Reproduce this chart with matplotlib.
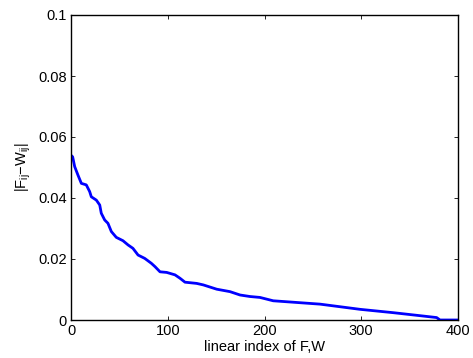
import matplotlib
matplotlib.use("Agg")
import matplotlib.pyplot as plt

plt.rcParams['font.family'] = ['Liberation Sans', 'DejaVu Sans']
plt.rcParams['mathtext.fontset'] = 'custom'
plt.rcParams['mathtext.rm'] = 'Liberation Sans'

# sorted differences
idx = [0, 1.7, 3.8, 7.2, 10.7, 15.8, 19.3, 21, 26.2, 29.7, 31.3, 34.8, 38.2,
       41.7, 46.8, 53.7, 59, 64, 69.3, 76.2, 83, 86.8, 92, 98.9, 107.5, 112.6,
       117.8, 129.9, 136.8, 150.6, 164.3, 174.7, 185, 195.3, 209, 257.4,
       298.7, 333.1, 364, 377.9, 381.4, 400]
diff = [0.0540, 0.0535, 0.0503, 0.0475, 0.0448, 0.0443, 0.0421, 0.0404,
        0.0393, 0.0377, 0.0350, 0.0328, 0.0317, 0.0290, 0.0271, 0.0260,
        0.0246, 0.0235, 0.0213, 0.0202, 0.0186, 0.0175, 0.0158, 0.0156,
        0.0148, 0.0137, 0.0124, 0.0120, 0.0115, 0.0101, 0.0093, 0.0082,
        0.0077, 0.0074, 0.0063, 0.0052, 0.0035, 0.0024, 0.0013, 0.0008,
        0.0, 0.0]

xticks = [0, 100, 200, 300, 400]
yticks = [0, 0.02, 0.04, 0.06, 0.08, 0.1]
yticklabels = ['0', '0.02', '0.04', '0.06', '0.08', '0.1']

fig = plt.figure(figsize=(4.73, 3.58), dpi=100)
ax = fig.add_axes([71 / 473, 1 - 320 / 358, 387 / 473, 305 / 358])
ax.plot(idx, diff, color='#0000ff', linewidth=2.0)
ax.set_xlim(0, 400)
ax.set_ylim(0, 0.1)
ax.set_xticks(xticks)
ax.set_xticklabels([str(t) for t in xticks])
ax.set_yticks(yticks)
ax.set_yticklabels(yticklabels)
ax.tick_params(direction='in', top=True, right=True, length=3, width=0.6,
               labelsize=10.5, pad=3)
for s in ax.spines.values():
    s.set_linewidth(1.0)
ax.set_xlabel('linear index of F,W', fontsize=10.5, labelpad=1)
ax.set_ylabel(r'$\mathregular{|F_{ij}{-}W_{ij}|}$', fontsize=10.5, labelpad=4)

fig.savefig('out.png', dpi=100)
